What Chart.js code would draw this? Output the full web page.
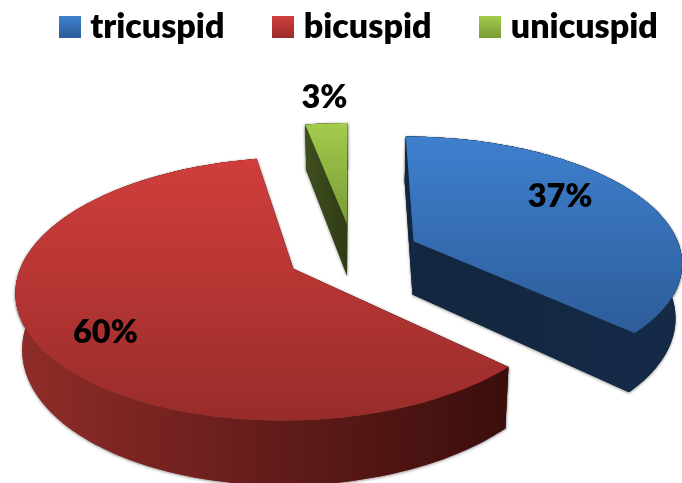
<!DOCTYPE html>
<html>
<head>
<meta charset="utf-8">
<style>
  html, body { margin: 0; background: #fff; }
  canvas { display: block; }
</style>
<script src="https://cdn.jsdelivr.net/npm/chart.js@4/dist/chart.umd.js"></script>
</head>
<body>
<canvas id="myChart" width="682" height="483"></canvas>
<script>
const categories = ["tricuspid", "bicuspid", "unicuspid"];
const percents = [37, 60, 3];

const topLight = ["#3e80ce", "#d03e3c", "#a3cc4d"];
const topDark = ["#2d5c99", "#982c2a", "#7a9b36"];
const sideLight = ["#13263f", "#902c29", "#3f4f1f"];
const sideDark = ["#142a47", "#3a0e0c", "#2f3b14"];

// ground plane -> screen, camera fitted to the reference
const view = { x0: 353, y0: 253.5, a: 268, b: 124, p: 0.15, depth: 54, bottomScale: 0.98, explode: 0.25 };

// label spot along each slice's middle radius, then a nudge
const labelRadius = [0.65, 0.7, 1.35];
const labelNudge = [[-3, -15], [-8, 18], [4, 3]];

function project(u, v, low) {
  const s = 1 / (1 - view.p * v);
  const x = view.x0 + view.a * u * s;
  const y = view.y0 + view.b * v * s;
  if (!low) return [x, y];
  return [view.x0 + (x - view.x0) * view.bottomScale, y + view.depth * s];
}

function tracePoly(ctx, pts) {
  ctx.beginPath();
  pts.forEach((p, i) => (i ? ctx.lineTo(p[0], p[1]) : ctx.moveTo(p[0], p[1])));
  ctx.closePath();
}

function sliceGeometry(arc) {
  const mid = (arc.startAngle + arc.endAngle) / 2;
  const ox = Math.cos(mid) * view.explode;
  const oy = Math.sin(mid) * view.explode;
  const rimTop = [];
  const rimLow = [];
  const steps = Math.ceil((arc.endAngle - arc.startAngle) / 0.02);
  for (let i = 0; i <= steps; i++) {
    const t = arc.startAngle + ((arc.endAngle - arc.startAngle) * i) / steps;
    rimTop.push(project(ox + Math.cos(t), oy + Math.sin(t), false));
    rimLow.push(project(ox + Math.cos(t), oy + Math.sin(t), true));
  }
  return { mid, ox, oy, rimTop, rimLow, apexTop: project(ox, oy, false), apexLow: project(ox, oy, true) };
}

function bounds(pts) {
  const xs = pts.map((p) => p[0]);
  const ys = pts.map((p) => p[1]);
  return { left: Math.min(...xs), right: Math.max(...xs), top: Math.min(...ys), bottom: Math.max(...ys) };
}

const pie3d = {
  id: "pie3d",
  beforeDatasetsDraw(chart) {
    const ctx = chart.ctx;
    const arcs = chart.getDatasetMeta(0).data;
    const shapes = arcs.map(sliceGeometry);

    shapes.forEach((g, i) => {
      const top = [g.apexTop, ...g.rimTop];
      const wall = [...g.rimTop, ...g.rimLow.slice().reverse()];
      const faceA = [g.apexTop, g.rimTop[0], g.rimLow[0], g.apexLow];
      const faceB = [g.apexTop, g.rimTop[g.rimTop.length - 1], g.rimLow[g.rimLow.length - 1], g.apexLow];
      const box = bounds(wall.concat(faceA, faceB));

      // soft edge under the solid
      ctx.save();
      ctx.shadowColor = "rgba(0,0,0,0.45)";
      ctx.shadowBlur = 3;
      ctx.shadowOffsetY = 1;
      ctx.fillStyle = sideLight[i];
      [faceA, faceB, wall, top].forEach((p) => {
        tracePoly(ctx, p);
        ctx.fill();
      });
      ctx.restore();

      const sideFill = ctx.createLinearGradient(box.left, 0, box.right, 0);
      sideFill.addColorStop(0, sideLight[i]);
      sideFill.addColorStop(1, sideDark[i]);
      ctx.fillStyle = sideFill;
      [faceA, faceB, wall].forEach((p) => {
        tracePoly(ctx, p);
        ctx.fill();
      });

      const tb = bounds(top);
      const topFill = ctx.createLinearGradient(0, tb.top, 0, tb.bottom);
      topFill.addColorStop(0, topLight[i]);
      topFill.addColorStop(1, topDark[i]);
      ctx.fillStyle = topFill;
      tracePoly(ctx, top);
      ctx.fill();
    });

    ctx.save();
    ctx.fillStyle = "#000";
    ctx.font = "800 32.5px Lato";
    ctx.textAlign = "center";
    ctx.textBaseline = "middle";
    shapes.forEach((g, i) => {
      const r = labelRadius[i];
      const p = project(g.ox + Math.cos(g.mid) * r, g.oy + Math.sin(g.mid) * r, false);
      ctx.fillText(percents[i] + "%", p[0] + labelNudge[i][0], p[1] + labelNudge[i][1]);
    });
    ctx.restore();
    return false;
  },
};

function legendSwatch(i) {
  const c = document.createElement("canvas");
  c.width = 22;
  c.height = 22;
  const g = c.getContext("2d");
  const fill = g.createLinearGradient(0, 0, 0, 22);
  fill.addColorStop(0, topLight[i]);
  fill.addColorStop(1, topDark[i]);
  g.fillStyle = fill;
  g.fillRect(0, 0, 22, 22);
  return c;
}

new Chart(document.getElementById("myChart"), {
  type: "pie",
  data: {
    labels: categories,
    datasets: [{ data: percents, backgroundColor: topLight, borderWidth: 0 }],
  },
  plugins: [pie3d],
  options: {
    responsive: false,
    animation: false,
    layout: { padding: { left: 7, right: -35, top: -45 } },
    plugins: {
      tooltip: { enabled: false },
      legend: {
        position: "top",
        labels: {
          color: "#000",
          font: { family: "Lato", size: 34, weight: "800" },
          usePointStyle: true,
          pointStyleWidth: 7,
          boxHeight: 22,
          padding: 55.25,
          generateLabels: () =>
            categories.map((text, i) => ({
              text,
              index: i,
              fillStyle: topLight[i],
              strokeStyle: topLight[i],
              lineWidth: 0,
              hidden: false,
              pointStyle: legendSwatch(i),
            })),
        },
      },
    },
  },
});
</script>
</body>
</html>
